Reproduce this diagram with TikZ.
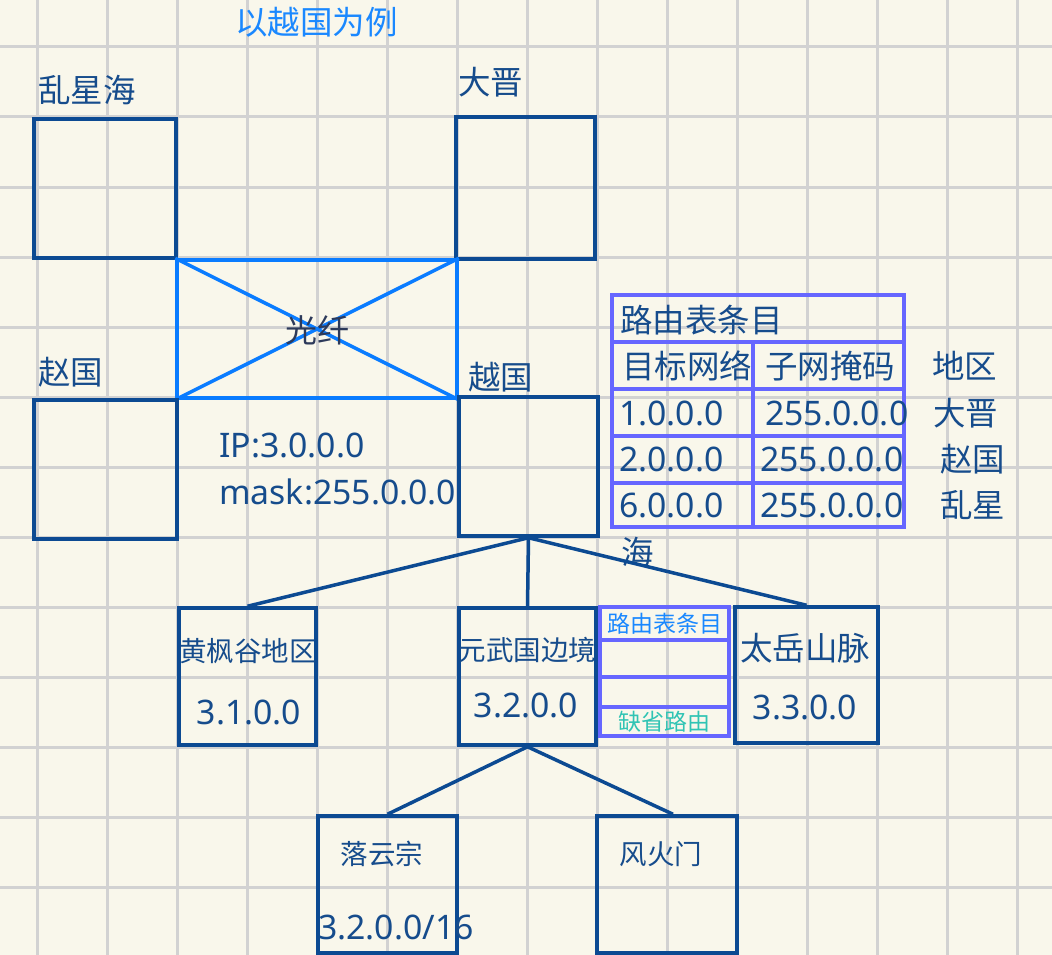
\documentclass[tikz,border=0pt]{standalone}
\usepackage{fontspec}
\setmainfont{Noto Sans CJK SC}
\newfontfamily\latinfont{Noto Sans}
\definecolor{bgc}{RGB}{249,247,235}
\definecolor{gridc}{RGB}{210,210,210}
\definecolor{boxc}{RGB}{12,74,146}
\definecolor{txtc}{RGB}{22,76,140}
\definecolor{fibc}{RGB}{10,124,255}
\definecolor{titc}{RGB}{26,136,255}
\definecolor{fibt}{RGB}{45,58,90}
\definecolor{tabc}{RGB}{102,102,255}
\definecolor{tealc}{RGB}{48,196,180}
\begin{document}
\begin{tikzpicture}[x=1pt,y=-1pt,
  gridline/.style={draw=gridc,line width=3pt},
  box/.style={draw=boxc,line width=3.5pt,rectangle,inner sep=0pt},
  fiber/.style={draw=fibc,line width=3.5pt},
  conn/.style={draw=boxc,line width=3.5pt},
  tab/.style={draw=tabc,line width=3.5pt},
  cjk/.style={inner sep=0pt,text=txtc,font=\fontsize{32.5}{36}\selectfont},
  cjks/.style={inner sep=0pt,text=txtc,font=\fontsize{27.5}{32}\selectfont},
  lat/.style={inner sep=0pt,text=txtc,font=\latinfont\fontsize{33.8}{38}\selectfont},
  small/.style={inner sep=0pt,font=\fontsize{23}{26}\selectfont}
]
\fill[bgc] (0,0) rectangle (1052,955);
\useasboundingbox (0,0) rectangle (1052,955);
\foreach \x in {37,107,...,1017} \draw[gridline] (\x,0) -- (\x,955);
\foreach \y in {47,117,...,887} \draw[gridline] (0,\y) -- (1052,\y);

% title
\node[inner sep=0pt,text=titc,font=\fontsize{32.5}{36}\selectfont,anchor=west] (title) at (235,22) {以越国为例};

% top boxes
\node[box,minimum width=142pt,minimum height=139pt] (lxh) at (105,188.5) {};
\node[cjk,anchor=west] (lxhl) at (38,90) {乱星海};
\node[box,minimum width=139pt,minimum height=142pt] (dj) at (525.5,188) {};
\node[cjk,anchor=west] (djl) at (458,82) {大晋};

% fiber
\node[fiber,rectangle,inner sep=0pt,minimum width=280pt,minimum height=138pt] (fib) at (317,329) {};
\draw[fiber] (fib.north west) -- (fib.south east);
\draw[fiber] (fib.south west) -- (fib.north east);
\node[inner sep=0pt,text=fibt,font=\fontsize{32}{36}\selectfont] (fibl) at (317.5,330) {光纤};

% middle boxes
\node[box,minimum width=143pt,minimum height=139pt] (zg) at (105.5,469.5) {};
\node[cjk,anchor=west] (zgl) at (38,372) {赵国};
\node[box,minimum width=139pt,minimum height=139pt] (yg) at (528.5,466.5) {};
\node[cjk,anchor=west] (ygl) at (468,377) {越国};
\node[lat,anchor=west] (ip) at (219,445) {IP:3.0.0.0};
\node[lat,anchor=west] (mask) at (219,492) {mask:255.0.0.0};

% routing table
\draw[tab] (612,295) rectangle (904,342);
\foreach \ya/\yb in {342/389,389/436,436/483,483/527}{
  \draw[tab] (612,\ya) rectangle (753,\yb);
  \draw[tab] (753,\ya) rectangle (904,\yb);
}
\node[cjk,anchor=west] (th) at (620,320) {路由表条目};
\node[cjk,anchor=west] (tc1) at (622,366) {目标网络};
\node[cjk,anchor=west] (tc2) at (765,366) {子网掩码};
\node[cjk,anchor=west] (tc3) at (932,366) {地区};
\node[lat,anchor=west] (r1a) at (619,413) {1.0.0.0};
\node[lat,anchor=west] (r1b) at (765,413) {255.0.0.0};
\node[cjk,anchor=west] (r1c) at (933,413) {大晋};
\node[lat,anchor=west] (r2a) at (619,459) {2.0.0.0};
\node[lat,anchor=west] (r2b) at (760,459) {255.0.0.0};
\node[cjk,anchor=west] (r2c) at (940,459) {赵国};
\node[lat,anchor=west] (r3a) at (619,505) {6.0.0.0};
\node[lat,anchor=west] (r3b) at (760,505) {255.0.0.0};
\node[cjk,anchor=west] (r3c) at (940,505) {乱星};
\node[cjk,anchor=west] (r3d) at (621,552) {海};

% lower boxes
\node[box,minimum width=137pt,minimum height=137pt] (hfg) at (247.5,676.5) {};
\node[cjks] (hfgl) at (248,651) {黄枫谷地区};
\node[lat] (hfgi) at (249,712) {3.1.0.0};
\node[box,minimum width=137pt,minimum height=137pt] (ywg) at (527.5,676.5) {};
\node[cjks] (ywgl) at (527.5,650) {元武国边境};
\node[lat] (ywgi) at (526,705) {3.2.0.0};
\node[box,minimum width=143pt,minimum height=136pt] (tys) at (806.5,675) {};
\node[cjk] (tysl) at (805,648) {太岳山脉};
\node[lat] (tysi) at (805,707) {3.3.0.0};

% small table
\draw[tab] (600,607) rectangle (729,640);
\draw[tab] (600,640) rectangle (729,677);
\draw[tab] (600,677) rectangle (729,707);
\draw[tab] (600,707) rectangle (729,736);
\node[small,text=titc] (st1) at (664.5,624) {路由表条目};
\node[small,text=tealc] (st2) at (664.5,722) {缺省路由};

% bottom boxes
\node[box,minimum width=139pt,minimum height=137pt] (lyz) at (387.5,884.5) {};
\node[cjks] (lyzl) at (382,854) {落云宗};
\node[lat] (lyzi) at (396,927) {3.2.0.0/16};
\node[box,minimum width=140pt,minimum height=137pt] (fhm) at (667,884.5) {};
\node[cjks] (fhml) at (661,854) {风火门};

% connectors
\draw[conn] (yg.south) -- (hfg.north);
\draw[conn] (yg.south) -- (ywg.north);
\draw[conn] (yg.south) -- (tys.north);
\draw[conn] (ywg.south) -- (lyz.north);
\draw[conn] (ywg.south) -- ([xshift=6pt]fhm.north);
\end{tikzpicture}
\end{document}
